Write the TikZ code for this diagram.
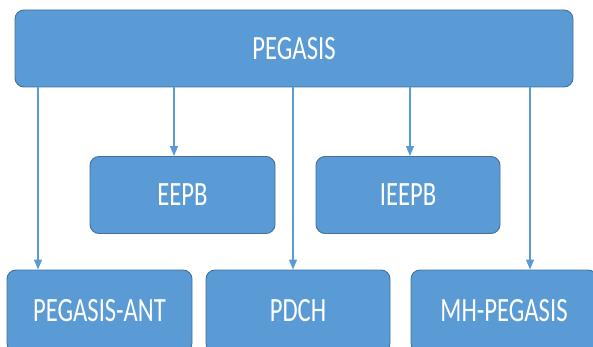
\documentclass[tikz,border=0pt]{standalone}
\usepackage{fontspec}
\setmainfont[FakeStretch=0.725]{Carlito}
\usetikzlibrary{arrows.meta}
\definecolor{boxfill}{HTML}{5B9BD5}
\definecolor{boxline}{HTML}{41719C}
\tikzset{
  box/.style={draw=boxline, line width=0.9pt, fill=boxfill, rounded corners=9pt,
    text=white, font=\fontsize{34}{34}\selectfont, inner sep=0pt},
  link/.style={draw=boxfill, line width=1.3pt, -{Triangle[width=8pt,length=10pt]}}
}
\begin{document}
\begin{tikzpicture}[x=1pt,y=-1pt]
  \useasboundingbox (0,0) rectangle (593,347);
  % top level
  \node[box, minimum width=558pt, minimum height=77pt] (top) at (294,48.5) {PEGASIS};
  % middle level
  \node[box, minimum width=185pt, minimum height=77pt] (eepb) at (182.5,195) {EEPB};
  \node[box, minimum width=184pt, minimum height=77pt] (ieepb) at (408,195) {IEEPB};
  % bottom level
  \node[box, minimum width=185pt, minimum height=82pt] (ant) at (99.5,311) {PEGASIS-ANT};
  \node[box, minimum width=184pt, minimum height=82pt] (pdch) at (298,311) {PDCH};
  \node[box, minimum width=186pt, minimum height=82pt] (mh) at (504,311) {MH-PEGASIS};
  % connectors
  \draw[link] (top.south -| 38,0) -- (ant.north -| 38,0);
  \draw[link] (top.south -| 174,0) -- (eepb.north -| 174,0);
  \draw[link] (top.south -| 293,0) -- (pdch.north -| 293,0);
  \draw[link] (top.south -| 410,0) -- (ieepb.north -| 410,0);
  \draw[link] (top.south -| 530,0) -- (mh.north -| 530,0);
\end{tikzpicture}
\end{document}
